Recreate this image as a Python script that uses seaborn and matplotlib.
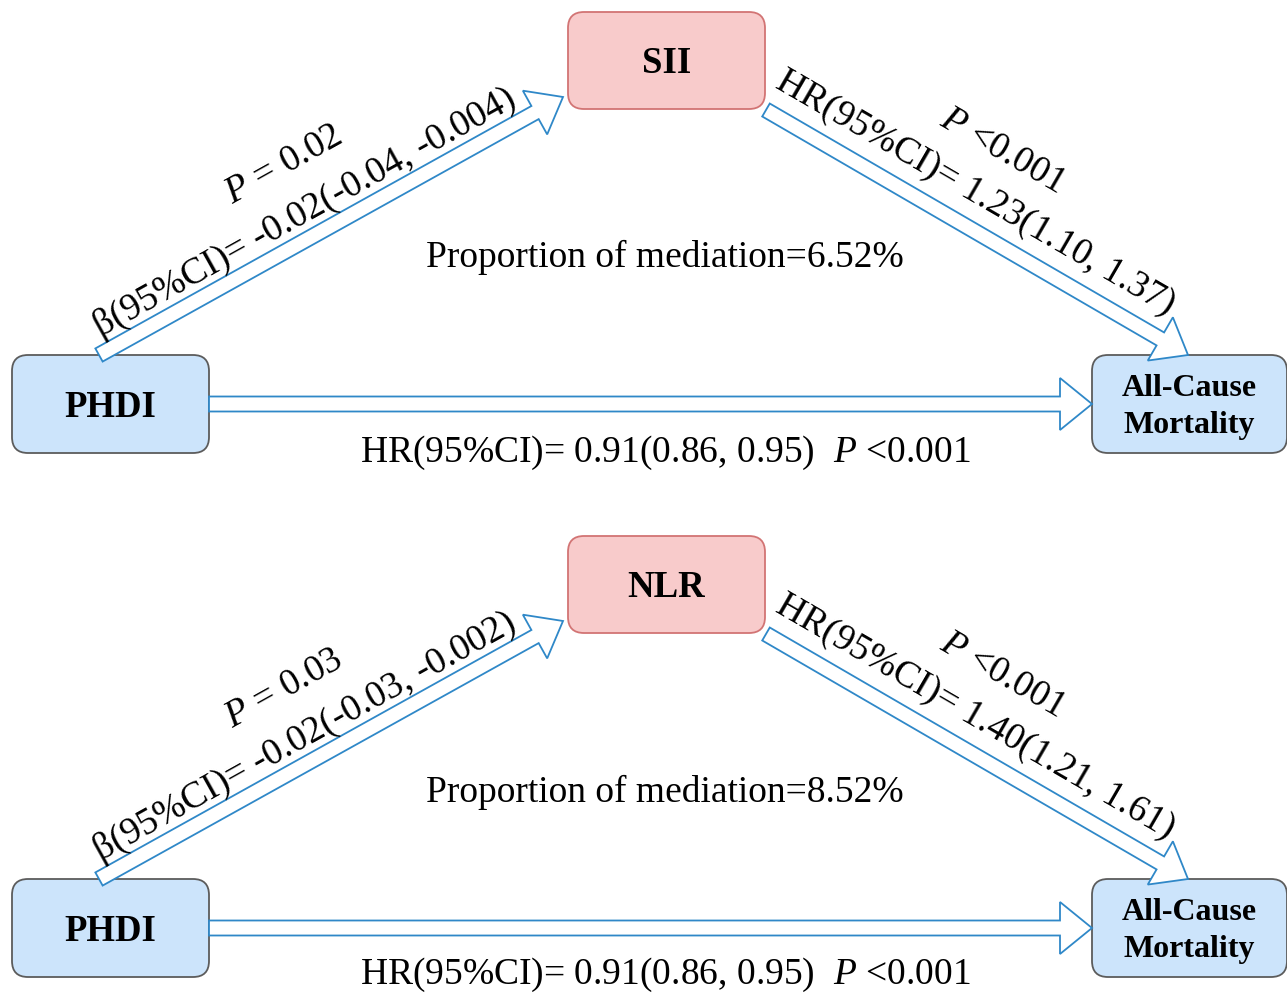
import matplotlib
matplotlib.use("Agg")
import matplotlib.pyplot as plt
from matplotlib.patches import FancyBboxPatch, FancyArrow
import seaborn as sns

# ---------------- data ----------------
exposure = "PHDI"
outcome = "All-Cause\nMortality"
mediators = ["SII", "NLR"]
beta_ci = ["-0.02(-0.04, -0.004)", "-0.02(-0.03, -0.002)"]
beta_p = ["= 0.02", "= 0.03"]
hr_mediator = ["1.23(1.10, 1.37)", "1.40(1.21, 1.61)"]
hr_mediator_p = ["<0.001", "<0.001"]
hr_direct = ["0.91(0.86, 0.95)", "0.91(0.86, 0.95)"]
hr_direct_p = ["<0.001", "<0.001"]
proportion = ["6.52%", "8.52%"]

# ---------------- style ----------------
sns.set_theme(style="white")
plt.rcParams["font.family"] = ["Liberation Serif", "DejaVu Serif"]
plt.rcParams["text.color"] = "black"
plt.rcParams["mathtext.fontset"] = "custom"
plt.rcParams["mathtext.rm"] = "Liberation Serif"
plt.rcParams["mathtext.it"] = "Liberation Serif:italic"
plt.rcParams["mathtext.bf"] = "Liberation Serif:bold"

BLUE_FILL = "#cce4fb"
BLUE_EDGE = "#5c5c5c"
PINK_FILL = "#f8cbcb"
PINK_EDGE = "#d27474"
ARROW = "#2f88c8"
FS = 27

fig = plt.figure(figsize=(12.87, 9.96), dpi=100)
ax = fig.add_axes([0, 0, 1, 1])
ax.set_xlim(0, 1287)
ax.set_ylim(996, 0)
ax.set_aspect("equal")
ax.axis("off")


def box(x0, y0, x1, y1, fc, ec, label, fs, ls=1.0):
    p = FancyBboxPatch((x0, y0), x1 - x0, y1 - y0,
                       boxstyle="round,pad=0,rounding_size=16",
                       fc=fc, ec=ec, lw=1.3, zorder=2)
    ax.add_patch(p)
    ax.text((x0 + x1) / 2, (y0 + y1) / 2 + 3, label, ha="center", va="center",
            fontsize=fs, fontweight="bold", linespacing=ls, color="black",
            zorder=3)


def arrow(x0, y0, x1, y1, hw=50, hl=32):
    a = FancyArrow(x0, y0, x1 - x0, y1 - y0, width=15, head_width=hw,
                   head_length=hl, length_includes_head=True,
                   fc="white", ec=ARROW, lw=1.3, zorder=4)
    ax.add_patch(a)


def rtext(x, y, s, rot):
    ax.text(x, y, s, ha="center", va="center", rotation=rot,
            rotation_mode="anchor", fontsize=FS, color="black", zorder=5)


offsets = [0, 524]
prop_y = [257, 792]
direct_y = [453, 975]

for i, dy in enumerate(offsets):
    # boxes
    box(12, 355 + dy, 209, 453 + dy, BLUE_FILL, BLUE_EDGE, exposure, 26.5)
    box(1092, 355 + dy, 1287, 453 + dy, BLUE_FILL, BLUE_EDGE, outcome, 23,
        ls=1.36)
    box(568, 12 + dy, 765, 109 + dy, PINK_FILL, PINK_EDGE, mediators[i], 26.5)

    # arrows
    arrow(99, 355 + dy, 563, 97 + dy)
    arrow(766, 110 + dy, 1188, 355 + dy)
    arrow(209, 404 + dy, 1092, 404 + dy, hw=52, hl=32)

    # path a labels
    rtext(305, 213 + dy, "\u03b2(95%CI)= " + beta_ci[i], 29.1)
    rtext(284, 165 + dy, r"$P$ " + beta_p[i], 29.1)

    # path b labels
    rtext(975, 193 + dy, "HR(95%CI)= " + hr_mediator[i], -30.1)
    rtext(1002, 151 + dy, r"$P$ " + hr_mediator_p[i], -30.1)

    # proportion
    ax.text(665, prop_y[i], "Proportion of mediation=" + proportion[i],
            ha="center", va="center", fontsize=FS, color="black")

    # direct effect
    ax.text(665, direct_y[i],
            "HR(95%CI)= " + hr_direct[i] + r"  $P$ " + hr_direct_p[i],
            ha="center", va="center", fontsize=FS, color="black")

fig.savefig("out.png", dpi=100, facecolor="white")
